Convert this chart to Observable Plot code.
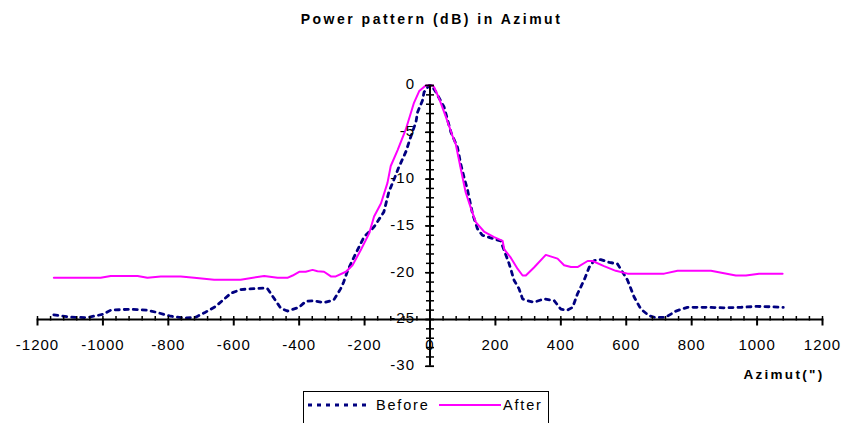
<!DOCTYPE html>
<html><head><meta charset="utf-8">
<script src="https://cdn.jsdelivr.net/npm/d3@7"></script>
<script src="https://cdn.jsdelivr.net/npm/@observablehq/plot@0.6"></script>
<style>
html,body{margin:0;padding:0;background:#fff;overflow:hidden;}
#wrap{width:841px;height:423px;position:relative;font-family:"Liberation Sans",Arial,sans-serif;color:#000;}
#title{height:40px;box-sizing:border-box;padding-top:11px;padding-left:22px;text-align:center;font-weight:bold;font-size:14px;line-height:16px;letter-spacing:2.5px;}
#legendRow{height:43px;position:relative;}
#legendBox{position:absolute;left:303px;top:11px;width:246px;height:40px;border:1.5px solid #000;box-sizing:border-box;background:#fff;}
.chart text{letter-spacing:1px;}
</style></head>
<body>
<div id="wrap">
  <div id="title">Power pattern (dB) in Azimut</div>
  <div id="plot"></div>
  <div id="legendRow"><div id="legendBox"></div></div>
</div>
<script>
// ---- data ----
const beforeX = [-1150,-1100,-1050,-1000,-976,-915,-864,-829,-793,-750,-716,-688,-655,-609,-579,-538,-507,-497,-456,-436,-400,-380,-355,-324,-294,-273,-264,-252,-232,-202,-171,-141,-126,-105,-95,-74,-59,-43,-38,-23,-18,-3,5,18,43,64,84,94,104,115,130,145,160,196,216,242,257,272,283,298,318,349,380,400,420,436,451,471,487,502,522,548,573,604,624,645,670,690,721,752,787,850,900,950,1000,1050,1080];
const beforeY = [-24.5,-24.75,-24.8,-24.45,-24.0,-23.9,-24.0,-24.3,-24.65,-24.85,-24.75,-24.25,-23.6,-22.2,-21.8,-21.7,-21.65,-21.7,-23.8,-24.1,-23.7,-23.05,-23.0,-23.2,-22.9,-21.7,-21.0,-19.8,-18.3,-16.2,-15.1,-13.5,-11.4,-9.6,-8.7,-7.1,-5.5,-3.9,-2.85,-1.6,-0.7,0,0,-0.7,-2.3,-5.0,-6.6,-8.4,-9.8,-11.2,-13.7,-15.3,-16.0,-16.4,-16.6,-19.05,-20.8,-21.7,-22.8,-23.0,-23.15,-22.8,-23.0,-23.9,-24.0,-23.7,-22.25,-20.8,-19.4,-18.7,-18.6,-18.9,-19.05,-20.8,-22.6,-23.9,-24.6,-24.8,-24.75,-24.1,-23.7,-23.7,-23.75,-23.7,-23.6,-23.65,-23.7];
const afterX = [-1150,-1007,-976,-894,-864,-823,-762,-721,-660,-579,-507,-466,-436,-420,-400,-380,-359,-344,-324,-303,-288,-257,-237,-212,-186,-171,-150,-130,-120,-99,-74,-49,-33,-13,8,13,28,48,69,79,94,109,125,140,165,196,222,227,247,268,283,293,318,354,390,410,431,451,482,497,532,568,604,716,757,859,935,966,1006,1078];
const afterY = [-20.55,-20.55,-20.35,-20.35,-20.55,-20.4,-20.4,-20.55,-20.75,-20.75,-20.35,-20.55,-20.55,-20.3,-19.9,-19.9,-19.7,-19.85,-19.9,-20.4,-20.4,-19.9,-19.2,-17.6,-15.8,-14.0,-12.6,-10.4,-8.6,-6.9,-4.7,-1.85,-0.6,0,0,-0.2,-1.4,-3.3,-5.4,-6.3,-8.9,-11.4,-13.1,-14.6,-15.6,-16.2,-16.6,-17.5,-18.4,-19.6,-20.3,-20.3,-19.45,-18.1,-18.5,-19.2,-19.4,-19.4,-18.75,-18.75,-19.3,-19.8,-20.1,-20.1,-19.8,-19.8,-20.3,-20.3,-20.1,-20.1];
const xTickLabels = [-1200,-1000,-800,-600,-400,-200,0,200,400,600,800,1000,1200];
const xMinorTicks = d3.range(-1200, 1201, 40);
const yTickLabels = [0,-5,-10,-15,-20,-25,-30];
const yMinorTicks = d3.range(-30, 1, 1);
const seriesNames = ["Before","After"];
const seriesColors = ["#000080","#ff00ff"];
const xLabel = "Azimut(\")";

const before = beforeX.map((x,i)=>({x, y: beforeY[i]}));
const after = afterX.map((x,i)=>({x, y: afterY[i]}));

const vTick = (up, down) => ({draw(ctx){ctx.moveTo(0,-up); ctx.lineTo(0,down);}});
const hTick = (l, r) => ({draw(ctx){ctx.moveTo(-l,0); ctx.lineTo(r,0);}});

const chart = Plot.plot({
  width: 841, height: 340,
  marginLeft: 37, marginRight: 19, marginTop: 45, marginBottom: 61,
  className: "chart",
  style: {fontFamily: "'Liberation Sans', Arial, sans-serif", fontSize: "15px", color: "black", background: "white", overflow: "visible"},
  x: {domain: [-1200, 1200], axis: null},
  y: {domain: [-25, 0], axis: null},
  marks: [
    Plot.line(before, {x: "x", y: "y", stroke: seriesColors[0], strokeWidth: 2.8, strokeDasharray: "4,5"}),
    Plot.line(after, {x: "x", y: "y", stroke: seriesColors[1], strokeWidth: 2}),
    Plot.ruleY([-25], {x1: -1200, x2: 1200, stroke: "black", strokeWidth: 2}),
    Plot.ruleX([0], {y1: -30, y2: 0, stroke: "black", strokeWidth: 2}),
    Plot.dot(xMinorTicks, {x: d => d, y: () => -25, symbol: vTick(3.5, 1), fill: "none", stroke: "black", strokeWidth: 1.5}),
    Plot.dot(xTickLabels, {x: d => d, y: () => -25, symbol: vTick(1, 6), fill: "none", stroke: "black", strokeWidth: 2}),
    Plot.dot(yMinorTicks, {x: () => 0, y: d => d, symbol: hTick(4, 4), fill: "none", stroke: "black", strokeWidth: 1.5}),
    Plot.dot(yTickLabels, {x: () => 0, y: d => d, symbol: hTick(5, 4), fill: "none", stroke: "black", strokeWidth: 1.5}),
    Plot.text(xTickLabels, {x: d => d, y: () => -25, text: d => String(d), dy: 26, fontSize: 15, fill: "black"}),
    Plot.text(yTickLabels, {x: () => 0, y: d => d, text: d => String(d), textAnchor: "end", dx: -15, dy: -1, fontSize: 15, fill: "black"}),
    Plot.text([xLabel], {x: () => 1200, y: () => -25, text: d => d, textAnchor: "end", dy: 55, dx: 2, fontSize: 13.5, fontWeight: "bold", fill: "black"})
  ]
});
chart.querySelectorAll("text").forEach(t => { if (t.textContent === xLabel) t.style.letterSpacing = "2.3px"; });
document.getElementById("plot").appendChild(chart);

// ---- legend ----
const ns = "http://www.w3.org/2000/svg";
const lsvg = document.createElementNS(ns, "svg");
lsvg.setAttribute("width", 243); lsvg.setAttribute("height", 37);
lsvg.style.display = "block";
const items = [
  {name: seriesNames[0], color: seriesColors[0], dash: "4,5", w: 2.8, x0: 4, x1: 67, tx: 72},
  {name: seriesNames[1], color: seriesColors[1], dash: null, w: 2, x0: 135, x1: 197, tx: 199}
];
items.forEach(it => {
  const l = document.createElementNS(ns, "line");
  l.setAttribute("x1", it.x0); l.setAttribute("x2", it.x1);
  l.setAttribute("y1", 13); l.setAttribute("y2", 13);
  l.setAttribute("stroke", it.color); l.setAttribute("stroke-width", it.w);
  if (it.dash) l.setAttribute("stroke-dasharray", it.dash);
  lsvg.appendChild(l);
  const t = document.createElementNS(ns, "text");
  t.setAttribute("x", it.tx); t.setAttribute("y", 18);
  t.setAttribute("font-family", "'Liberation Sans', Arial, sans-serif");
  t.setAttribute("font-size", "14.5");
  t.setAttribute("letter-spacing", "1.8");
  t.textContent = it.name;
  lsvg.appendChild(t);
});
document.getElementById("legendBox").appendChild(lsvg);
</script>
</body></html>
